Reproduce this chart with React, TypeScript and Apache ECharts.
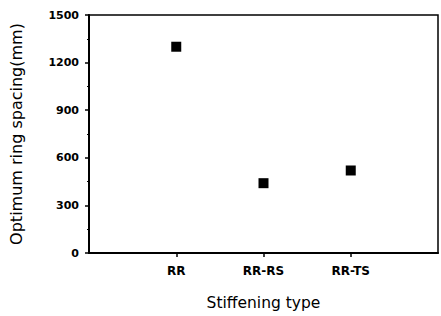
import React, { useEffect, useRef } from "react";
import * as echarts from "echarts";

const categories = ["", "RR", "RR-RS", "RR-TS", ""];
const pointCategories = ["RR", "RR-RS", "RR-TS"];
const spacingValues = [1300, 440, 520];
const yTicks = [0, 300, 600, 900, 1200, 1500];

export default function App() {
  const ref = useRef<HTMLDivElement>(null);
  useEffect(() => {
    if (!ref.current) return;
    const chart = echarts.init(ref.current, undefined, { renderer: "svg" });
    const font = "DejaVu Sans";
    chart.setOption({
      animation: false,
      grid: {
        left: 88,
        top: 15,
        right: 1,
        bottom: 58,
        show: true,
        borderColor: "#000",
        borderWidth: 1.5,
        backgroundColor: "transparent",
      },
      xAxis: {
        type: "category",
        data: categories,
        boundaryGap: false,
        name: "Stiffening type",
        nameLocation: "middle",
        nameGap: 42,
        nameTextStyle: { color: "#000", fontFamily: font, fontSize: 15.5 },
        axisLine: { lineStyle: { color: "#000", width: 2 } },
        axisTick: {
          show: true,
          inside: false,
          length: 4,
          interval: (i: number, v: string) => v !== "",
          lineStyle: { color: "#000", width: 1.5 },
        },
        axisLabel: {
          color: "#000",
          fontFamily: font,
          fontWeight: "bold",
          fontSize: 12,
          margin: 12,
          interval: 0,
        },
        splitLine: { show: false },
      },
      yAxis: {
        type: "value",
        min: yTicks[0],
        max: yTicks[yTicks.length - 1],
        interval: 300,
        name: "Optimum ring spacing(mm)",
        nameLocation: "middle",
        nameGap: 65,
        nameTextStyle: { color: "#000", fontFamily: font, fontSize: 16 },
        axisLine: { show: true, lineStyle: { color: "#000", width: 2 } },
        axisTick: { show: true, inside: false, length: 4, lineStyle: { color: "#000", width: 1.5 } },
        minorTick: { show: true, splitNumber: 2, length: 2, lineStyle: { color: "#000" } },
        axisLabel: {
          color: "#000",
          fontFamily: font,
          fontWeight: "bold",
          fontSize: 11,
          margin: 10,
          formatter: (v: number) => String(v),
        },
        splitLine: { show: false },
      },
      series: [
        {
          type: "scatter",
          symbol: "rect",
          symbolSize: 10,
          itemStyle: { color: "#000", opacity: 1 },
          data: pointCategories.map((c, i) => [c, spacingValues[i]]),
        },
      ],
    });
    return () => chart.dispose();
  }, []);
  return <div ref={ref} style={{ width: 441, height: 316, position: "absolute", left: 0, top: 0 }} />;
}
